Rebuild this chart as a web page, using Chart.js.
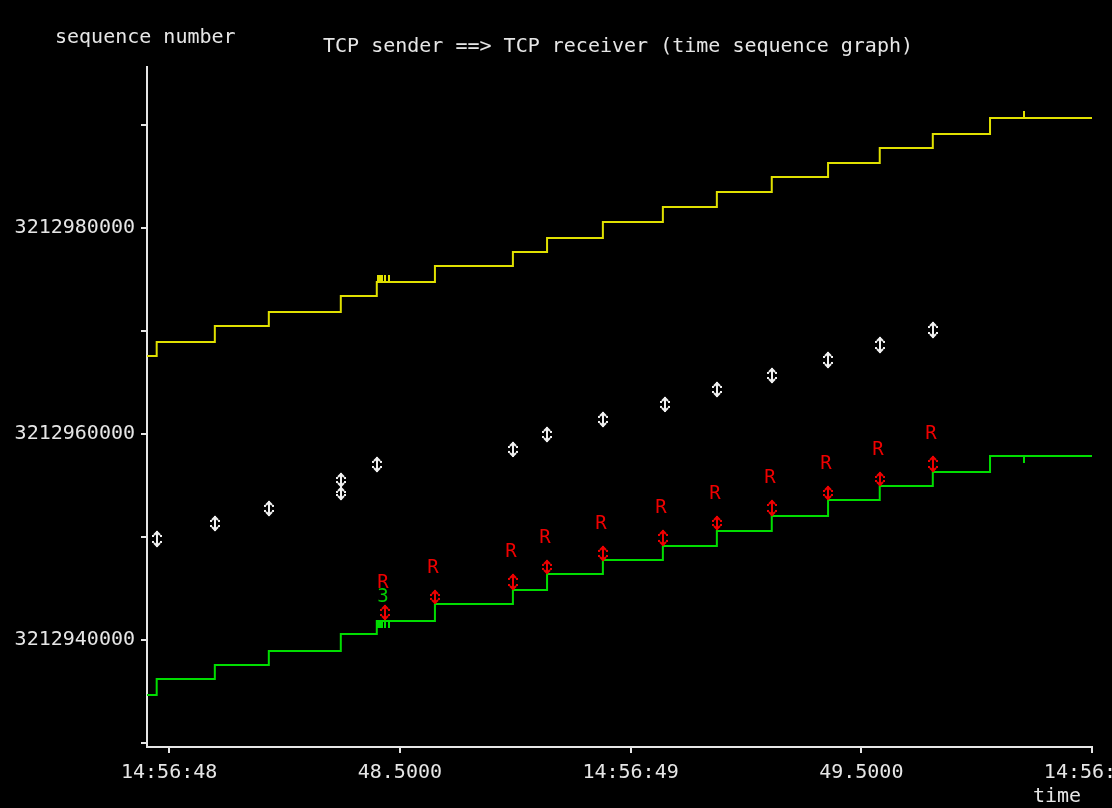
<!DOCTYPE html>
<html>
<head>
<meta charset="utf-8">
<script src="https://cdn.jsdelivr.net/npm/chart.js@4.4.0/dist/chart.umd.min.js"></script>
<style>
  html, body { margin: 0; padding: 0; background: #000; overflow: hidden; }
  #wrap { width: 1150px; height: 808px; }
</style>
</head>
<body>
<div id="wrap"><canvas id="tsg" width="1150" height="808"></canvas></div>
<script>
// time = seconds after 14:56:00, seq = absolute sequence number
const winTimes = [47.952, 47.973, 48.099, 48.216, 48.372, 48.450, 48.576, 48.745, 48.819, 48.940, 49.070, 49.187, 49.306, 49.428, 49.540, 49.655, 49.779, 50.0];
const winSeq = [3212967570, 3212968930, 3212970490, 3212971850, 3212973400, 3212974760, 3212976310, 3212977670, 3212979030, 3212980580, 3212982040, 3212983500, 3212984950, 3212986310, 3212987770, 3212989130, 3212990680, 3212990680];
const ackTimes = [47.952, 47.973, 48.099, 48.216, 48.372, 48.450, 48.576, 48.745, 48.819, 48.940, 49.070, 49.187, 49.306, 49.428, 49.540, 49.655, 49.779, 50.0];
const ackSeq = [3212934660, 3212936210, 3212937570, 3212938930, 3212940580, 3212941850, 3212943500, 3212944850, 3212946410, 3212947770, 3212949130, 3212950580, 3212952040, 3212953590, 3212954950, 3212956310, 3212957860, 3212957860];

// data segments sent (white arrows)
const segTimes = [47.973, 48.099, 48.216, 48.372, 48.372, 48.450, 48.745, 48.819, 48.940, 49.074, 49.187, 49.306, 49.428, 49.540, 49.655];
const segLo = [3212949030, 3212950580, 3212952040, 3212953590, 3212954850, 3212956310, 3212957770, 3212959220, 3212960680, 3212962140, 3212963590, 3212964950, 3212966410, 3212967860, 3212969320];
const segHi = [3212950580, 3212952040, 3212953500, 3212954850, 3212956210, 3212957770, 3212959220, 3212960680, 3212962140, 3212963590, 3212965050, 3212966410, 3212967960, 3212969420, 3212970870];

// retransmitted segments (red arrows + R)
const rexTimes = [48.468, 48.576, 48.745, 48.819, 48.940, 49.070, 49.187, 49.306, 49.428, 49.540, 49.655];
const rexLo = [3212941940, 3212943500, 3212944850, 3212946410, 3212947670, 3212949130, 3212950680, 3212952040, 3212953590, 3212954950, 3212956310];
const rexHi = [3212943400, 3212944850, 3212946410, 3212947770, 3212949130, 3212950680, 3212952040, 3212953590, 3212954950, 3212956310, 3212957860];

// duplicate acks
const dupTimes = [48.4635];
const dupSeq = [3212941850];
const dupCount = ['3'];

// small ack / window marks
const markTimes = [48.452, 48.4535, 48.455, 48.4565, 48.458, 48.4595, 48.461, 48.468, 48.476, 49.853];

const xTickValues = [48, 48.5, 49, 49.5, 50];
const xTickLabels = ['14:56:48', '48.5000', '14:56:49', '49.5000', '14:56:50'];
const yTickValues = [3212930000, 3212940000, 3212950000, 3212960000, 3212970000, 3212980000, 3212990000];
const yTickLabels = ['', '3212940000', '', '3212960000', '', '3212980000', ''];

const FG = '#e6e6e6';
const MONO = "'DejaVu Sans Mono', 'Liberation Mono', monospace";

function pts(xs, ys) { return xs.map((x, i) => ({ x: x, y: ys[i] })); }
function stepVal(times, vals, t) {
  let v = vals[0];
  for (let i = 0; i < times.length; i++) if (times[i] <= t) v = vals[i];
  return v;
}

function drawArrow(ctx, x, yTop, yBot, color) {
  ctx.strokeStyle = color;
  ctx.fillStyle = color;
  ctx.lineWidth = 2;
  ctx.beginPath();
  ctx.moveTo(x, yTop); ctx.lineTo(x, yBot);
  ctx.moveTo(x - 3, yTop + 4); ctx.lineTo(x, yTop + 1); ctx.lineTo(x + 3, yTop + 4);
  ctx.moveTo(x - 3, yBot - 4); ctx.lineTo(x, yBot - 1); ctx.lineTo(x + 3, yBot - 4);
  ctx.stroke();
  ctx.fillRect(x - 5, yTop + 4, 2, 2); ctx.fillRect(x + 3, yTop + 4, 2, 2);
  ctx.fillRect(x - 5, yBot - 6, 2, 2); ctx.fillRect(x + 3, yBot - 6, 2, 2);
}

const tsgPlugin = {
  id: 'tsg',
  beforeDraw(chart) {
    const ctx = chart.ctx;
    ctx.save();
    ctx.fillStyle = '#000';
    ctx.fillRect(0, 0, chart.width, chart.height);
    ctx.restore();
  },
  afterDatasetsDraw(chart) {
    const ctx = chart.ctx, xs = chart.scales.x, ys = chart.scales.y;
    ctx.save();
    // window / ack marks
    ctx.lineWidth = 2;
    markTimes.forEach(t => {
      const px = Math.round(xs.getPixelForValue(t));
      const wy = ys.getPixelForValue(stepVal(winTimes, winSeq, t));
      const ay = ys.getPixelForValue(stepVal(ackTimes, ackSeq, t));
      ctx.strokeStyle = '#e0e000';
      ctx.beginPath(); ctx.moveTo(px, wy); ctx.lineTo(px, wy - 7); ctx.stroke();
      ctx.strokeStyle = '#00dd00';
      ctx.beginPath(); ctx.moveTo(px, ay); ctx.lineTo(px, ay + 7); ctx.stroke();
    });
    // segments
    segTimes.forEach((t, i) => {
      drawArrow(ctx, Math.round(xs.getPixelForValue(t)), ys.getPixelForValue(segHi[i]), ys.getPixelForValue(segLo[i]), '#f0f0f0');
    });
    // retransmissions
    ctx.font = '19px ' + MONO;
    ctx.textAlign = 'center';
    ctx.textBaseline = 'middle';
    rexTimes.forEach((t, i) => {
      const px = Math.round(xs.getPixelForValue(t));
      const top = ys.getPixelForValue(rexHi[i]);
      drawArrow(ctx, px, top, ys.getPixelForValue(rexLo[i]), '#ee0000');
      ctx.fillStyle = '#ee0000';
      ctx.fillText('R', px - 2, top - 22);
    });
    // dup ack counts
    ctx.fillStyle = '#00cc00';
    dupTimes.forEach((t, i) => {
      ctx.fillText(dupCount[i], xs.getPixelForValue(t), ys.getPixelForValue(dupSeq[i]) - 24);
    });
    ctx.restore();
  },
  afterDraw(chart) {
    const ctx = chart.ctx;
    ctx.save();
    ctx.fillStyle = FG;
    ctx.font = '20px ' + MONO;
    ctx.textBaseline = 'middle';
    ctx.textAlign = 'left';
    ctx.fillText('sequence number', 55, 38);
    ctx.fillText('TCP sender ==> TCP receiver (time sequence graph)', 323, 47);
    ctx.fillText('time', 1033, 797);
    ctx.restore();
  }
};

new Chart(document.getElementById('tsg'), {
  type: 'line',
  data: {
    datasets: [
      { label: 'window', data: pts(winTimes, winSeq), stepped: 'before', borderColor: '#e0e000', borderWidth: 2, pointRadius: 0, fill: false },
      { label: 'ack', data: pts(ackTimes, ackSeq), stepped: 'before', borderColor: '#00dd00', borderWidth: 2, pointRadius: 0, fill: false }
    ]
  },
  options: {
    responsive: false,
    animation: false,
    devicePixelRatio: 1,
    layout: { padding: { left: 0, top: 67, right: 58, bottom: 0 } },
    plugins: { legend: { display: false }, tooltip: { enabled: false } },
    scales: {
      x: {
        type: 'linear',
        min: 47.952,
        max: 50.0,
        afterBuildTicks: s => { s.ticks = xTickValues.map(v => ({ value: v })); },
        afterFit: s => { s.height = 61; },
        grid: { drawOnChartArea: false, color: FG, tickLength: 6, lineWidth: 2 },
        border: { display: true, color: FG, width: 2 },
        ticks: {
          color: FG,
          font: { family: MONO, size: 20 },
          padding: 8,
          maxRotation: 0,
          autoSkip: false,
          callback: (v, i) => xTickLabels[i]
        }
      },
      y: {
        type: 'linear',
        min: 3212929610,
        max: 3212995630,
        afterBuildTicks: s => { s.ticks = yTickValues.map(v => ({ value: v })); },
        afterFit: s => { s.width = 147; },
        grid: { drawOnChartArea: false, color: FG, tickLength: 6, lineWidth: 2 },
        border: { display: true, color: FG, width: 2 },
        ticks: {
          color: FG,
          font: { family: MONO, size: 20 },
          padding: 6,
          autoSkip: false,
          callback: (v, i) => yTickLabels[i]
        }
      }
    }
  },
  plugins: [tsgPlugin]
});
</script>
</body>
</html>
